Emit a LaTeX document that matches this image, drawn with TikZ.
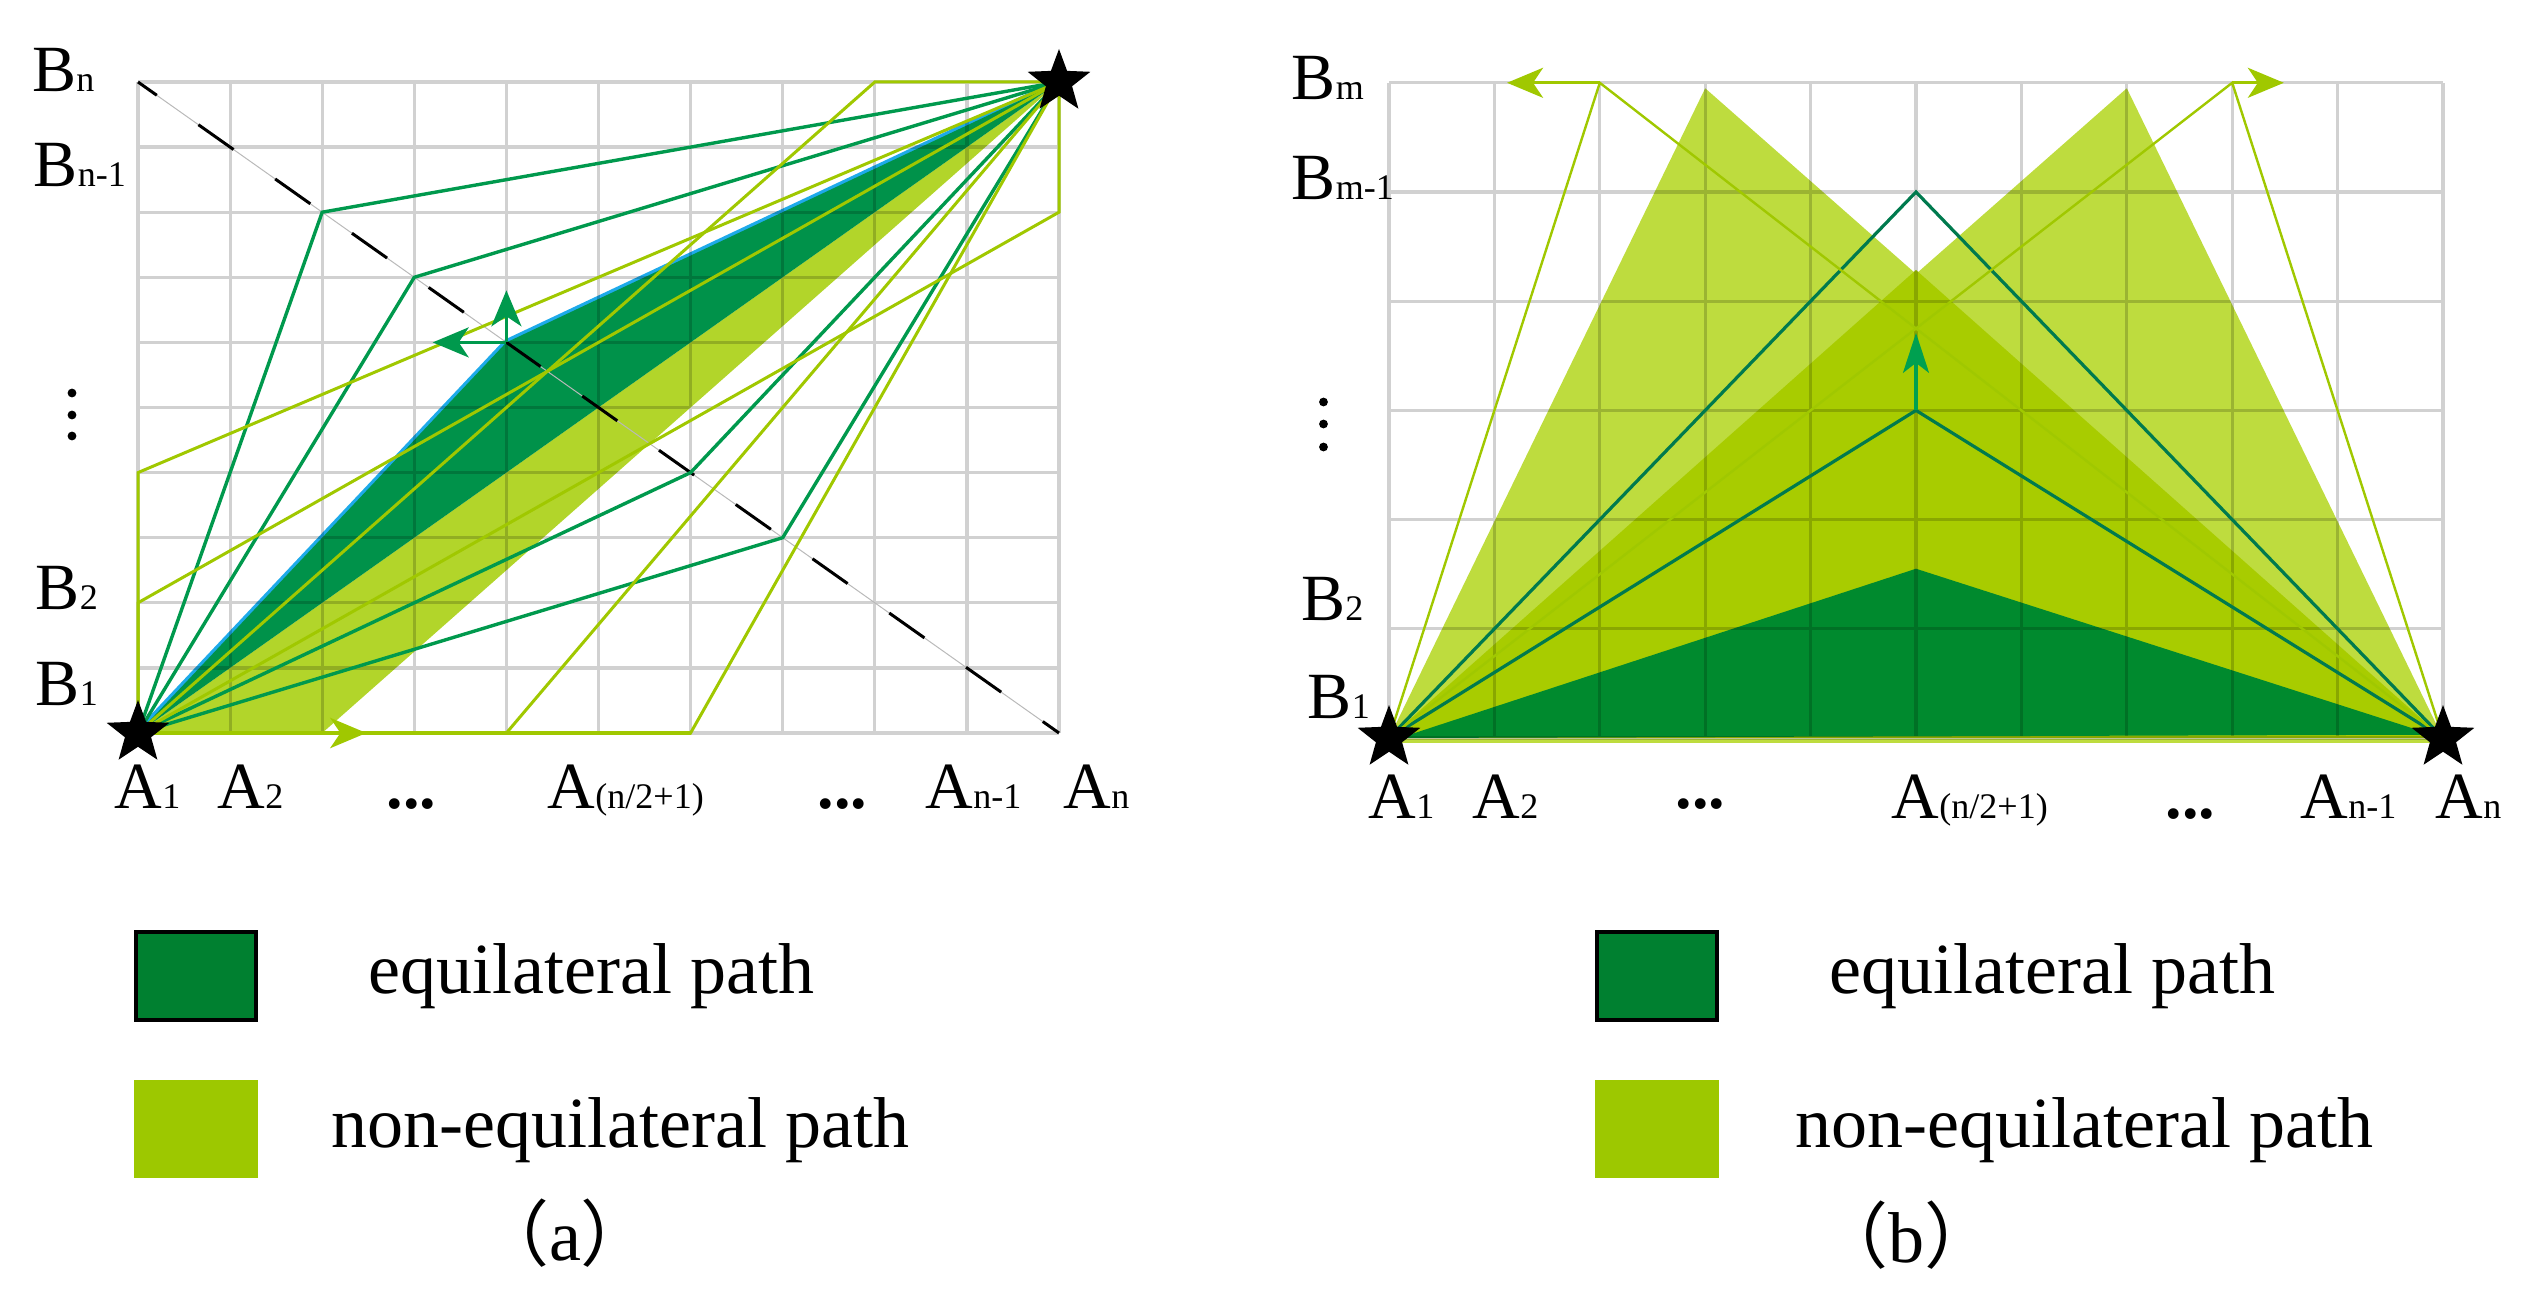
\documentclass[tikz,border=0pt]{standalone}
\usepackage{fontspec}
\setmainfont{Liberation Serif}
\newfontfamily\cjkfont{Noto Sans CJK SC}
\usetikzlibrary{arrows.meta,shapes.geometric}
\definecolor{dgline}{HTML}{00994D}
\definecolor{dgfill}{HTML}{00924A}
\definecolor{ygline}{HTML}{A0C800}
\definecolor{ygband}{HTML}{B2D52A}
\definecolor{cyanc}{HTML}{1EAAEA}
\definecolor{bdark}{HTML}{008A2E}
\definecolor{blight}{HTML}{BEDC3E}
\definecolor{bmid}{HTML}{A8CC00}
\definecolor{bteal}{HTML}{007A4E}
\definecolor{barrow}{HTML}{00A050}
\definecolor{legdark}{HTML}{008030}
\definecolor{leglight}{HTML}{9DC800}
\newcommand\sbs[1]{{\fontsize{9}{10}\selectfont #1}}
\begin{document}
\begin{tikzpicture}[x=0.25pt,y=-0.25pt,
  gridln/.style={draw=black,draw opacity=0.18,line width=0.8pt},
  dgln/.style={draw=dgline,line width=0.85pt,line join=miter},
  ygln/.style={draw=ygline,line width=0.75pt,line join=miter},
  lab/.style={anchor=base west,inner sep=0pt,font=\fontsize{16.5}{18}\selectfont},
  legtxt/.style={anchor=base west,inner sep=0pt,font=\fontsize{18}{20}\selectfont},
  capt/.style={anchor=base,inner sep=0pt,font=\fontsize{18}{20}\selectfont},
  starnode/.style={star,star points=5,star point ratio=2.4,fill=black,draw=none,inner sep=0pt,minimum size=16.5pt},
  vdot/.style={circle,fill=black,inner sep=0pt,minimum size=2.2pt},
  tipA/.style={-{Stealth[length=9pt,width=7.5pt,inset=2.5pt]}},
]
\useasboundingbox (0,0) rectangle (2531,1305);

%================ panel (a) =================
\begin{scope}[shift={(138,733)},x={(23.025pt,0pt)},y={(0pt,16.275pt)}]
  \coordinate (A00) at (0,0);
  \coordinate (A20) at (2,0);
  \coordinate (A25) at (2.48,0);
  \coordinate (A40) at (4,0);
  \coordinate (A60) at (6,0);
  \coordinate (A02) at (0,2);
  \coordinate (A04) at (0,4);
  \coordinate (A28) at (2,8);
  \coordinate (A37) at (3,7);
  \coordinate (A46) at (4,6);
  \coordinate (A64) at (6,4);
  \coordinate (A73) at (7,3);
  \coordinate (A810) at (8,10);
  \coordinate (A108) at (10,8);
  \coordinate (A1010) at (10,10);
  \coordinate (A010) at (0,10);
  \coordinate (A100) at (10,0);
  \coordinate (AUp) at (4,6.8);
  \coordinate (ALeft) at (3.2,6);
  % fills
  \fill[ygband] (A00) -- (A20) -- (A1010) -- cycle;
  \draw[cyanc,line width=1.6pt,line join=miter] (A00) -- (A46) -- (A1010);
  \fill[dgfill] (A00) -- (A46) -- (A1010) -- cycle;
  % grid
  \draw[gridln] \foreach \i in {0,...,10}{(\i,0) -- (\i,10)} \foreach \j in {0,...,10}{(0,\j) -- (10,\j)};
  % anti-diagonal
  \draw[gray!55,line width=0.25pt] (A010) -- (A100);
  \draw[black,line width=0.75pt,dash pattern=on 10.75pt off 12.75pt,dash phase=5pt] (A010) -- (A100);
  % dark green paths
  \draw[dgln] (A00) -- (A28) -- (A1010);
  \draw[dgln] (A00) -- (A37) -- (A1010);
  \draw[dgln] (A00) -- (A64) -- (A1010);
  \draw[dgln] (A00) -- (A73) -- (A1010);
  % yellow-green paths
  \draw[ygln] (A00) -- (A04) -- (A1010);
  \draw[ygln] (A00) -- (A02) -- (A1010);
  \draw[ygln] (A00) -- (A810) -- (A1010);
  \draw[ygln] (A00) -- (A108) -- (A1010);
  \draw[ygln] (A00) -- (A40) -- (A1010);
  \draw[ygln] (A00) -- (A60) -- (A1010);
  \draw[ygline,line width=1.2pt] (A00) -- (A60);
  % arrows
  \draw[dgline,line width=0.85pt,tipA] (A46) -- (AUp);
  \draw[dgline,line width=0.85pt,tipA] (A46) -- (ALeft);
  \draw[ygline,line width=1.2pt,tipA] (A20) -- (A25);
  % stars
  \node[starnode] (sA1) at (A00) {};
  \node[starnode] (sAn) at (A1010) {};
\end{scope}

% labels (a)
\node[lab] (aBn) at (31.6,92) {B\sbs{n}};
\node[lab] (aBn1) at (33,187) {B\sbs{n-1}};
\node[lab] (aB2) at (35,610) {B\sbs{2}};
\node[lab] (aB1) at (35,705) {B\sbs{1}};
\node[vdot] (adot1) at (72,393) {};
\node[vdot] (adot2) at (72,415) {};
\node[vdot] (adot3) at (72,436) {};
\node[lab] (aA1) at (114,808) {A\sbs{1}};
\node[lab] (aA2) at (217,808) {A\sbs{2}};
\node[lab] (aE1) at (386,808) {\textbf{...}};
\node[lab] (aAm) at (547,808) {A\sbs{(n/2+1)}};
\node[lab] (aE2) at (817,808) {\textbf{...}};
\node[lab] (aAn1) at (925,808) {A\sbs{n-1}};
\node[lab] (aAn) at (1063,808) {A\sbs{n}};

% legend (a)
\node[draw=black,line width=1pt,fill=legdark,minimum width=30pt,minimum height=22pt,inner sep=0pt] (aLegD) at (196,976) {};
\node[fill=leglight,minimum width=31pt,minimum height=24.5pt,inner sep=0pt] (aLegL) at (196,1129) {};
\node[legtxt] (aLegDt) at (368,993) {equilateral path};
\node[legtxt] (aLegLt) at (331,1147) {non-equilateral path};
\node[capt] (capA) at (565,1260) {{\cjkfont （}a{\cjkfont ）}};

%================ panel (b) =================
\begin{scope}[shift={(1389,738)},x={(26.35pt,0pt)},y={(0pt,27.3pt)}]
  \coordinate (B00) at (0,0);
  \coordinate (B100) at (10,0);
  \coordinate (B36) at (3,5.95);
  \coordinate (B76) at (7,5.95);
  \coordinate (Bov) at (5,4.2857);
  \coordinate (Bdl) at (0.1,0);
  \coordinate (Bdk) at (5,1.55);
  \coordinate (Bdr) at (9.9,0.03);
  \coordinate (B55) at (5,5);
  \coordinate (B53) at (5,3);
  \coordinate (B537) at (5,3.71);
  \coordinate (B26) at (2,6);
  \coordinate (B112) at (1.12,6);
  \coordinate (B86) at (8,6);
  \coordinate (B849) at (8.49,6);
  \coordinate (Bbl) at (0,-0.03);
  \coordinate (Bbr) at (10,-0.03);
  % fills
  \fill[blight] (B00) -- (B36) -- (B100) -- cycle;
  \fill[blight] (B00) -- (B76) -- (B100) -- cycle;
  \fill[bmid] (B00) -- (Bov) -- (B100) -- cycle;
  \draw[blight,line width=1pt] (Bbl) -- (Bbr);
  \fill[bdark] (Bdl) -- (Bdk) -- (Bdr) -- cycle;
  % grid
  \draw[gridln] \foreach \i in {0,...,10}{(\i,0) -- (\i,6)} \foreach \j in {0,...,6}{(0,\j) -- (10,\j)};
  % lines
  \draw[bteal,line width=0.8pt,line join=miter] (B00) -- (B55) -- (B100);
  \draw[bteal,line width=0.8pt,line join=miter] (B00) -- (B53) -- (B100);
  \draw[ygline,line width=0.6pt,line join=miter] (B00) -- (B26) -- (B100);
  \draw[ygline,line width=0.6pt,line join=miter] (B00) -- (B86) -- (B100);
  % arrows
  \draw[ygline,line width=0.7pt,tipA] (B26) -- (B112);
  \draw[ygline,line width=0.7pt,tipA] (B86) -- (B849);
  \draw[barrow,line width=0.8pt,-{Stealth[length=10pt,width=6.5pt,inset=2.5pt]}] (B53) -- (B537);
  % stars
  \node[starnode] (sB1) at (B00) {};
  \node[starnode] (sBn) at (B100) {};
\end{scope}

% labels (b)
\node[lab] (bBm) at (1291,100) {B\sbs{m}};
\node[lab] (bBm1) at (1291,200) {B\sbs{m-1}};
\node[lab] (bB2) at (1300.6,620) {B\sbs{2}};
\node[lab] (bB1) at (1307,718) {B\sbs{1}};
\node[vdot] (bdot1) at (1323.5,402) {};
\node[vdot] (bdot2) at (1323.5,424) {};
\node[vdot] (bdot3) at (1323.5,447) {};
\node[lab] (bA1) at (1368,818) {A\sbs{1}};
\node[lab] (bA2) at (1472,818) {A\sbs{2}};
\node[lab] (bE1) at (1675,808) {\textbf{...}};
\node[lab] (bAm) at (1891,818) {A\sbs{(n/2+1)}};
\node[lab] (bE2) at (2165,818) {\textbf{...}};
\node[lab] (bAn1) at (2300,818) {A\sbs{n-1}};
\node[lab] (bAn) at (2435,818) {A\sbs{n}};

% legend (b)
\node[draw=black,line width=1pt,fill=legdark,minimum width=30pt,minimum height=22pt,inner sep=0pt] (bLegD) at (1657,976) {};
\node[fill=leglight,minimum width=31pt,minimum height=24.5pt,inner sep=0pt] (bLegL) at (1657,1129) {};
\node[legtxt] (bLegDt) at (1829,993) {equilateral path};
\node[legtxt] (bLegLt) at (1795,1147) {non-equilateral path};
\node[capt] (capB) at (1906,1262) {{\cjkfont （}b{\cjkfont ）}};
\end{tikzpicture}
\end{document}
